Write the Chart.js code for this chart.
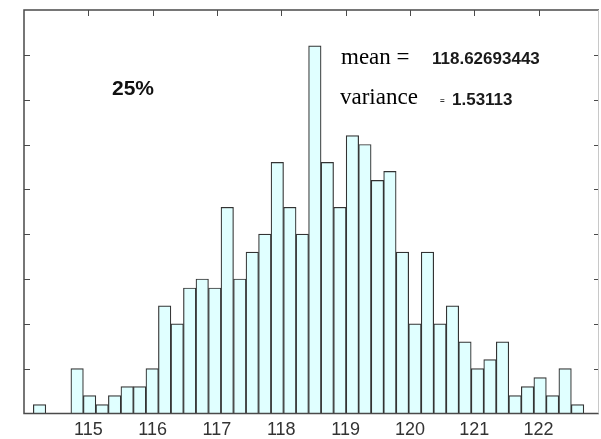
<!DOCTYPE html>
<html>
<head>
<meta charset="utf-8">
<title>Histogram 25%</title>
<script src="https://cdn.jsdelivr.net/npm/chart.js@4/dist/chart.umd.min.js"></script>
<style>
  html, body { margin:0; padding:0; background:#fff; }
  #wrap { width:601px; height:439px; }
</style>
</head>
<body>
<div id="wrap"><canvas id="hist" width="601" height="439"></canvas></div>
<script>
/* ---- data ---- */
const binCenters = [
  114.242, 114.437, 114.631, 114.826, 115.020, 115.215, 115.409, 115.604, 115.798, 115.993,
  116.187, 116.382, 116.576, 116.771, 116.966, 117.160, 117.355, 117.549, 117.744, 117.938,
  118.133, 118.327, 118.522, 118.716, 118.911, 119.106, 119.300, 119.495, 119.689, 119.884,
  120.078, 120.273, 120.467, 120.662, 120.856, 121.051, 121.245, 121.440, 121.635, 121.829,
  122.024, 122.218, 122.413, 122.607
];
const counts = [
  1, 0, 0, 5, 2, 1, 2, 3, 3, 5,
  12, 10, 14, 15, 14, 23, 15, 18, 20, 28,
  23, 20, 41, 28, 23, 31, 30, 26, 27, 18,
  10, 18, 10, 12, 8, 5, 6, 8, 2, 3,
  4, 2, 5, 1
];
const xTicks = [115, 116, 117, 118, 119, 120, 121, 122];
const yTicks = [5, 10, 15, 20, 25, 30, 35, 40];
const xRange = [114, 122.94];
const yRange = [0, 45];
const levelLabel = '25%';
const meanLabel = 'mean =';
const meanValue = '118.62693443';
const varLabel = 'variance';
const varValue = '1.53113';

/* ---- look ---- */
const AXIS = '#4a4a4a';
const TICK = 6;
const SANS = '"Liberation Sans", Arial, sans-serif';
const SERIF = '"Liberation Serif", "Times New Roman", serif';

/* MATLAB-ish box with inward ticks on every side */
const boxAxes = {
  id: 'boxAxes',
  beforeDatasetsDraw(chart) {
    const {ctx, chartArea: a, scales: {x}} = chart;
    ctx.save();
    ctx.strokeStyle = AXIS; ctx.lineWidth = 1;
    ctx.beginPath();
    xTicks.forEach(v => {
      const px = Math.round(x.getPixelForValue(v)) + .5;
      ctx.moveTo(px, a.bottom); ctx.lineTo(px, a.bottom - TICK);
    });
    ctx.stroke();
    ctx.restore();
  },
  afterDatasetsDraw(chart) {
    const {ctx, chartArea: a, scales: {x, y}} = chart;
    ctx.save();
    ctx.strokeStyle = AXIS; ctx.lineWidth = 1;
    ctx.beginPath();
    xTicks.forEach(v => {
      const px = Math.round(x.getPixelForValue(v)) + .5;
      ctx.moveTo(px, a.top); ctx.lineTo(px, a.top + TICK);
    });
    yTicks.forEach(v => {
      const py = Math.round(y.getPixelForValue(v)) + .5;
      ctx.moveTo(a.left, py); ctx.lineTo(a.left + TICK, py);
      ctx.moveTo(a.right, py); ctx.lineTo(a.right - 5, py);
    });
    ctx.stroke();
    // frame: dark left/top/bottom, pale right edge
    ctx.lineWidth = 1.5;
    ctx.beginPath();
    ctx.moveTo(a.right, a.top); ctx.lineTo(a.left, a.top);
    ctx.lineTo(a.left, a.bottom); ctx.lineTo(a.right, a.bottom);
    ctx.stroke();
    ctx.strokeStyle = '#c8c8c8'; ctx.lineWidth = 1;
    ctx.beginPath();
    ctx.moveTo(a.right - .5, a.top); ctx.lineTo(a.right - .5, a.bottom);
    ctx.stroke();
    ctx.restore();
  }
};

/* text notes on the plot */
const notes = [
  {text: levelLabel, x: 112, y: 95,  font: 'bold 21px ' + SANS, color: '#111'},
  {text: meanLabel,  x: 341, y: 64,  font: '23px ' + SERIF,     color: '#000'},
  {text: meanValue,  x: 432, y: 64,  font: 'bold 17px ' + SANS, color: '#1a1a1a'},
  {text: varLabel,   x: 340, y: 104, font: '23px ' + SERIF,     color: '#000'},
  {text: '=',        x: 440, y: 103, font: 'bold 8px ' + SANS,  color: '#333'},
  {text: varValue,   x: 452, y: 105, font: 'bold 17px ' + SANS, color: '#1a1a1a'}
];
const notePlugin = {
  id: 'notes',
  afterDraw(chart) {
    const ctx = chart.ctx;
    ctx.save();
    ctx.textAlign = 'left'; ctx.textBaseline = 'alphabetic';
    notes.forEach(n => { ctx.font = n.font; ctx.fillStyle = n.color; ctx.fillText(n.text, n.x, n.y); });
    ctx.restore();
  }
};

new Chart(document.getElementById('hist'), {
  type: 'bar',
  data: {
    datasets: [{
      data: binCenters.map((c, i) => ({x: c, y: counts[i]})),
      backgroundColor: '#e0ffff',
      borderColor: '#333',
      borderWidth: 1.2,
      barPercentage: 1,
      categoryPercentage: 1
    }]
  },
  options: {
    responsive: false,
    animation: false,
    devicePixelRatio: 1,
    layout: { padding: { left: 24, right: 2, top: 10, bottom: -8 } },
    plugins: { legend: {display: false}, tooltip: {enabled: false} },
    scales: {
      x: {
        type: 'linear', min: xRange[0], max: xRange[1], offset: false,
        grid: { display: false, drawTicks: false, offset: false },
        border: { display: false },
        afterBuildTicks: s => { s.ticks = xTicks.map(v => ({value: v})); },
        ticks: {
          color: '#333', padding: 7.75, maxRotation: 0, autoSkip: false,
          font: { family: SANS, size: 18, lineHeight: 1 },
          callback: v => String(v)
        }
      },
      y: {
        display: false, min: yRange[0], max: yRange[1]
      }
    }
  },
  plugins: [boxAxes, notePlugin]
});
</script>
</body>
</html>
